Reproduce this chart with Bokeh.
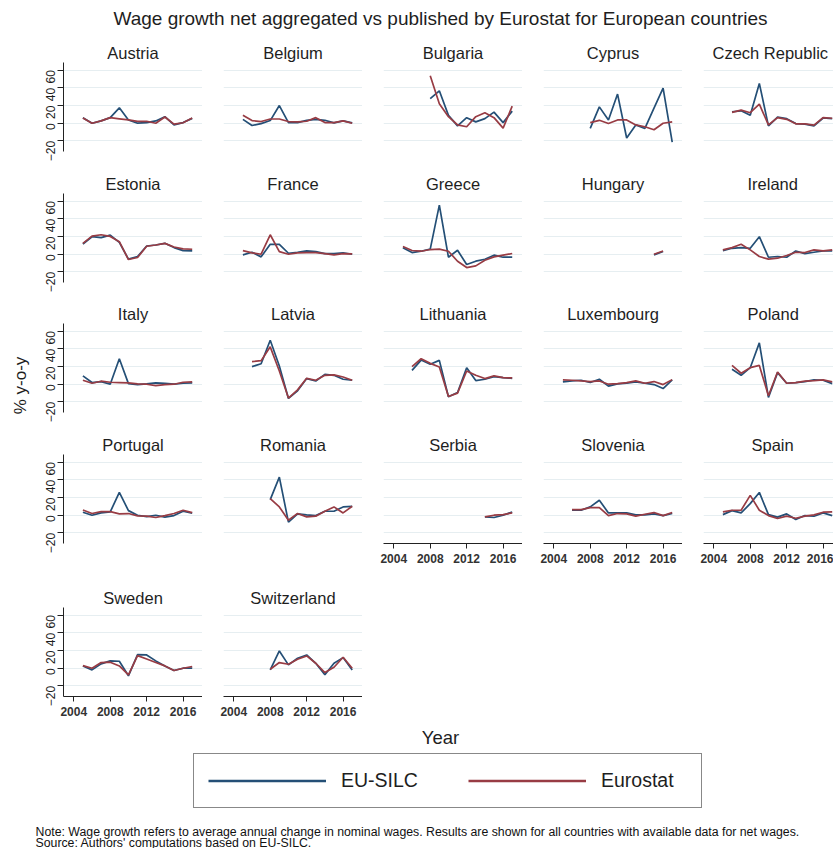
import math
from bokeh.plotting import figure
from bokeh.layouts import gridplot, row, column
from bokeh.models import Range1d, FixedTicker, Legend, LegendItem, ColumnDataSource
from bokeh.core.properties import value
from bokeh.embed import file_html
from bokeh.resources import INLINE

# ---------------- data ----------------
TITLE = "Wage growth net aggregated vs published by Eurostat for European countries"
Y_TITLE = "% y-o-y"
X_TITLE = "Year"
SERIES = ["EU-SILC", "Eurostat"]
X_TICKS = [2004, 2008, 2012, 2016]
Y_TICKS = [-20, 0, 20, 40, 60]
NOTE_1 = ("Note: Wage growth refers to average annual change in nominal wages. "
          "Results are shown for all countries  with available data for net wages.")
NOTE_2 = "Source: Authors' computations based on EU-SILC."

COUNTRIES = ["Austria", "Belgium", "Bulgaria", "Cyprus", "Czech Republic",
             "Estonia", "France", "Greece", "Hungary", "Ireland",
             "Italy", "Latvia", "Lithuania", "Luxembourg", "Poland",
             "Portugal", "Romania", "Serbia", "Slovenia", "Spain",
             "Sweden", "Switzerland"]

START_YEARS = [2005, 2005, 2008, 2008, 2006,
               2005, 2005, 2005, 2015, 2005,
               2005, 2006, 2006, 2005, 2006,
               2005, 2008, 2014, 2006, 2005,
               2005, 2008]

AUSTRIA_EUSILC = [6.3, 0.0, 2.6, 6.3, 17.4, 3.7, 0.0, 0.7, 2.6, 7.4, -1.9, 0.7, 5.5]
AUSTRIA_EUROSTAT = [6.0, 0.0, 2.6, 6.3, 5.0, 3.7, 2.0, 2.2, 0.0, 7.0, -1.0, 0.5, 6.0]
BELGIUM_EUSILC = [4.4, -2.6, -0.4, 3.0, 20.0, 0.7, 0.7, 3.3, 4.4, 3.3, 0.4, 2.6, 0.4]
BELGIUM_EUROSTAT = [8.9, 3.0, 1.9, 4.8, 4.8, 1.9, 1.5, 2.2, 6.3, 0.7, 0.7, 2.6, 0.0]
BULGARIA_EUSILC = [27.8, 36.7, 8.9, -3.0, 6.3, 1.5, 5.2, 12.6, 0.7, 13.7]
BULGARIA_EUROSTAT = [53.7, 22.0, 7.4, -1.9, -4.0, 7.4, 11.9, 6.3, -5.6, 19.3]
CYPRUS_EUSILC = [-5.9, 18.5, 3.7, 33.0, -16.7, -1.9, -5.9, 17.0, 39.6, -21.5]
CYPRUS_EUROSTAT = [0.7, 3.3, -0.4, 3.7, 3.7, -1.9, -4.0, -7.4, 0.0, 1.5]
CZECH_EUSILC = [13.0, 14.0, 8.9, 45.0, -3.0, 7.0, 5.2, -0.4, -1.1, -3.0, 5.9, 5.2]
CZECH_EUROSTAT = [12.2, 14.8, 11.9, 21.5, -1.9, 6.3, 4.4, -0.7, -0.7, -2.2, 6.3, 5.6]
ESTONIA_EUSILC = [11.6, 19.8, 18.7, 21.6, 13.4, -5.6, -2.6, 9.3, 10.4, 12.3, 7.5, 4.1, 3.7]
ESTONIA_EUROSTAT = [12.3, 20.5, 22.0, 20.1, 14.2, -6.0, -3.7, 9.0, 10.4, 12.3, 8.2, 6.0, 5.6]
FRANCE_EUSILC = [-0.7, 2.2, -3.0, 11.2, 11.2, 1.1, 2.2, 3.7, 3.0, 0.7, 0.7, 1.5, 0.0]
FRANCE_EUROSTAT = [4.1, 1.5, 0.0, 22.0, 3.0, 0.0, 1.5, 1.9, 1.9, 0.7, -0.7, 0.7, 0.4]
GREECE_EUSILC = [7.2, 1.9, 3.4, 5.7, 55.5, -3.4, 4.5, -11.7, -7.9, -5.7, -1.1, -3.4, -3.4]
GREECE_EUROSTAT = [8.7, 4.2, 3.4, 5.3, 5.7, 3.4, -7.9, -15.1, -13.2, -6.8, -3.0, -1.1, 0.8]
HUNGARY_EUSILC = [-0.7, 3.0]
HUNGARY_EUROSTAT = [0.0, 3.7]
IRELAND_EUSILC = [4.1, 6.7, 7.5, 6.7, 19.8, -3.4, -2.6, -3.4, 3.7, 0.7, 2.2, 3.7, 3.7]
IRELAND_EUROSTAT = [4.9, 7.5, 11.2, 4.9, -2.6, -5.6, -4.5, -1.5, 2.2, 1.9, 4.9, 3.7, 4.9]
ITALY_EUSILC = [9.4, 1.9, 3.0, 0.0, 28.8, 0.7, -0.4, 0.4, 1.5, 1.1, 0.0, 1.1, 1.5]
ITALY_EUROSTAT = [4.5, 1.1, 3.4, 2.2, 1.9, 1.5, 0.4, 0.0, -1.5, -0.4, 0.0, 2.2, 2.6]
LATVIA_EUSILC = [19.9, 23.2, 49.8, 20.6, -16.1, -7.5, 6.4, 3.7, 11.2, 10.1, 5.6, 4.5]
LATVIA_EUROSTAT = [25.5, 26.6, 42.3, 15.0, -15.7, -6.4, 6.7, 4.5, 10.1, 10.5, 8.2, 4.5]
LITHUANIA_EUSILC = [15.7, 27.3, 22.5, 27.0, -14.2, -9.4, 18.7, 4.1, 5.6, 8.6, 7.5, 6.7]
LITHUANIA_EUROSTAT = [19.9, 28.8, 23.6, 19.5, -13.9, -10.1, 15.0, 10.1, 6.4, 9.4, 7.5, 7.1]
LUXEMBOURG_EUSILC = [2.6, 3.7, 4.5, 1.9, 5.6, -2.2, 0.4, 1.1, 2.6, 1.1, -0.4, -4.9, 4.9]
LUXEMBOURG_EUROSTAT = [4.9, 4.5, 3.7, 3.0, 3.7, 0.0, 0.7, 1.9, 3.7, 1.1, 3.0, -0.4, 5.2]
POLAND_EUSILC = [16.9, 10.1, 18.7, 46.8, -15.0, 13.1, 1.1, 1.9, 3.0, 4.9, 4.5, 0.7]
POLAND_EUROSTAT = [21.3, 12.4, 18.7, 21.3, -13.1, 13.9, 1.1, 1.9, 3.4, 4.1, 4.9, 2.6]
PORTUGAL_EUSILC = [3.4, 0.0, 2.6, 3.7, 25.8, 5.2, 0.0, -1.5, 0.0, -2.2, -0.4, 4.5, 2.2]
PORTUGAL_EUROSTAT = [6.0, 1.9, 4.1, 4.1, 1.5, 1.9, -0.7, -1.1, -2.6, -0.4, 1.9, 5.6, 3.0]
ROMANIA_EUSILC = [17.6, 43.1, -7.9, 1.5, 0.4, -0.4, 4.5, 4.5, 9.4, 10.1]
ROMANIA_EUROSTAT = [18.7, 9.4, -5.6, 1.9, -1.9, -1.1, 4.5, 9.4, 2.6, 10.1]
SERBIA_EUSILC = [-1.9, -2.6, 0.0, 3.7]
SERBIA_EUROSTAT = [-1.9, 0.0, 0.7, 2.6]
SLOVENIA_EUSILC = [5.6, 5.6, 9.4, 16.9, 2.6, 2.6, 2.6, 0.4, 0.4, 1.5, -0.4, 1.9]
SLOVENIA_EUROSTAT = [6.4, 6.4, 8.6, 8.6, -0.4, 1.9, 1.5, -1.1, 1.1, 3.0, -0.4, 3.0]
SPAIN_EUSILC = [0.7, 5.2, 2.6, 13.1, 25.8, 0.7, -2.2, 1.5, -4.9, -0.4, -1.1, 2.6, -0.4]
SPAIN_EUROSTAT = [3.7, 5.6, 5.6, 22.5, 5.6, -0.4, -3.7, -1.1, -3.4, -1.1, 0.4, 3.4, 3.7]
SWEDEN_EUSILC = [2.6, -1.9, 4.9, 8.3, 7.9, -8.6, 15.4, 15.0, 8.3, 2.6, -2.6, 0.0, 0.0]
SWEDEN_EUROSTAT = [3.0, 0.0, 6.4, 6.8, 2.6, -7.5, 14.3, 10.5, 6.4, 2.6, -2.6, 0.0, 1.9]
SWITZERLAND_EUSILC = [-1.9, 19.5, 3.8, 11.3, 15.0, 5.6, -7.5, 5.6, 12.0, -1.9]
SWITZERLAND_EUROSTAT = [-1.1, 6.4, 4.5, 10.2, 13.9, 5.6, -4.9, 1.1, 12.4, 0.0]

EUSILC = [AUSTRIA_EUSILC, BELGIUM_EUSILC, BULGARIA_EUSILC, CYPRUS_EUSILC, CZECH_EUSILC,
          ESTONIA_EUSILC, FRANCE_EUSILC, GREECE_EUSILC, HUNGARY_EUSILC, IRELAND_EUSILC,
          ITALY_EUSILC, LATVIA_EUSILC, LITHUANIA_EUSILC, LUXEMBOURG_EUSILC, POLAND_EUSILC,
          PORTUGAL_EUSILC, ROMANIA_EUSILC, SERBIA_EUSILC, SLOVENIA_EUSILC, SPAIN_EUSILC,
          SWEDEN_EUSILC, SWITZERLAND_EUSILC]
EUROSTAT = [AUSTRIA_EUROSTAT, BELGIUM_EUROSTAT, BULGARIA_EUROSTAT, CYPRUS_EUROSTAT, CZECH_EUROSTAT,
            ESTONIA_EUROSTAT, FRANCE_EUROSTAT, GREECE_EUROSTAT, HUNGARY_EUROSTAT, IRELAND_EUROSTAT,
            ITALY_EUROSTAT, LATVIA_EUROSTAT, LITHUANIA_EUROSTAT, LUXEMBOURG_EUROSTAT, POLAND_EUROSTAT,
            PORTUGAL_EUROSTAT, ROMANIA_EUROSTAT, SERBIA_EUROSTAT, SLOVENIA_EUROSTAT, SPAIN_EUROSTAT,
            SWEDEN_EUROSTAT, SWITZERLAND_EUROSTAT]

# ---------------- style / layout ----------------
FONT = "Liberation Sans"
BLUE = "#244f76"
RED = "#983c44"
GRID = "#e6eef1"
TXT = "#1e1e1e"

PAGE_W, PAGE_H = 833, 848
HEADER_H = 36
YLAB_W = 38
NCOLS = 5
FRAME_H = 89
FRAME_W = 139
LAST_FRAME_W = 130
X_START, X_END = 2002.87, 2018.13
Y_START, Y_END = -32.0, 68.7
ROW_BORDERS = [(26, 15), (27, 15), (26, 15), (27, 37), (27, 28)]
COL_LEFT = [25, 21, 21, 21, 21]
TITLE_FS = "16.5px"
# left offsets of the titles in the last (cut) column, so they sit where the reference has them
LAST_COL_TITLE_OFFSET = {"Czech Republic": 9, "Ireland": 44, "Poland": 44, "Spain": 48}

n = len(COUNTRIES)
nrows = (n + NCOLS - 1) // NCOLS


def has_x_axis(i):
    return i + NCOLS >= n


def make_panel(i):
    r, c = divmod(i, NCOLS)
    top, bottom = ROW_BORDERS[r]
    left = COL_LEFT[c]
    fw = LAST_FRAME_W if c == NCOLS - 1 else FRAME_W
    x_end = X_START + (X_END - X_START) * fw / FRAME_W
    show_x = has_x_axis(i)
    show_y = c == 0
    p = figure(width=left + fw, height=top + FRAME_H + bottom,
               x_range=Range1d(X_START, x_end), y_range=Range1d(Y_START, Y_END),
               output_backend="svg", toolbar_location=None,
               x_axis_location="below" if show_x else None,
               y_axis_location="left" if show_y else None,
               min_border_left=left, min_border_right=0,
               min_border_top=top, min_border_bottom=bottom,
               title=COUNTRIES[i])
    p.outline_line_color = None
    p.background_fill_color = "white"
    p.border_fill_color = "white"
    p.xgrid.visible = False
    p.ygrid.ticker = FixedTicker(ticks=Y_TICKS)
    p.ygrid.grid_line_color = GRID
    p.ygrid.grid_line_width = 1.2

    t = p.title
    t.text_font = FONT
    t.text_font_size = TITLE_FS
    t.text_font_style = "normal"
    t.text_color = TXT
    t.standoff = 2
    if c == NCOLS - 1:
        t.align = "left"
        t.offset = LAST_COL_TITLE_OFFSET.get(COUNTRIES[i], 40)
    else:
        t.align = "center"

    if show_y:
        ax = p.yaxis[0]
        ax.ticker = FixedTicker(ticks=Y_TICKS)
        ax.major_label_orientation = math.pi / 2
        ax.major_label_text_font = FONT
        ax.major_label_text_font_size = "12px"
        ax.major_label_text_color = TXT
        ax.major_label_standoff = 7
        ax.major_tick_out = 6
        ax.major_tick_in = 0
        ax.minor_tick_line_color = None
        ax.axis_line_color = "#222"
        ax.major_tick_line_color = "#222"
    if show_x:
        ax = p.xaxis[0]
        ax.ticker = FixedTicker(ticks=X_TICKS)
        ax.major_label_text_font = FONT
        ax.major_label_text_font_size = "12px"
        ax.major_label_text_font_style = "bold"
        ax.major_label_text_color = "#333"
        ax.major_label_standoff = 5
        ax.major_tick_out = 5
        ax.major_tick_in = 0
        ax.minor_tick_line_color = None
        ax.axis_line_color = "#222"
        ax.major_tick_line_color = "#222"

    eu = EUSILC[i]
    es = EUROSTAT[i]
    years = list(range(START_YEARS[i], START_YEARS[i] + len(eu)))
    src = ColumnDataSource(dict(year=years, eusilc=eu, eurostat=es))
    p.line("year", "eusilc", source=src, line_color=BLUE, line_width=1.7)
    p.line("year", "eurostat", source=src, line_color=RED, line_width=1.7)
    return p


def canvas(w, h):
    p = figure(width=w, height=h, x_range=Range1d(0, w), y_range=Range1d(0, h),
               output_backend="svg", toolbar_location=None, min_border=0,
               x_axis_location=None, y_axis_location=None)
    p.outline_line_color = None
    p.xgrid.visible = False
    p.ygrid.visible = False
    return p


panels = [make_panel(i) for i in range(n)]
grid_children = []
for r in range(nrows):
    rr = []
    for c in range(NCOLS):
        i = r * NCOLS + c
        rr.append(panels[i] if i < n else None)
    grid_children.append(rr)
grid = gridplot(grid_children, toolbar_location=None)

GRID_H = sum(t + FRAME_H + b for t, b in ROW_BORDERS)
GRID_BOTTOM = HEADER_H + GRID_H

# header with the main title
header = canvas(PAGE_W, HEADER_H)
header.text(x=[440], y=[HEADER_H - 18], text=[TITLE], text_font=value(FONT), text_font_size="19px",
            text_align="center", text_baseline="middle", text_color=TXT)

# left strip with the y title
ylab = canvas(YLAB_W, GRID_H)
ylab.text(x=[20], y=[GRID_BOTTOM - 385], text=[Y_TITLE], angle=math.pi / 2,
          text_font=value(FONT), text_font_size="17px",
          text_align="center", text_baseline="middle", text_color=TXT)

# footer: x title, legend, notes
FOOT_H = PAGE_H - GRID_BOTTOM
footer = canvas(PAGE_W, FOOT_H)
footer.text(x=[440], y=[PAGE_H - 737], text=[X_TITLE], text_font=value(FONT),
            text_font_size="18.5px", text_align="center", text_baseline="middle", text_color=TXT)
footer.text(x=[35, 35], y=[PAGE_H - 831, PAGE_H - 842], text=[NOTE_1, NOTE_2], text_font=value(FONT),
            text_font_size="12.3px", text_align="left", text_baseline="alphabetic", text_color="#111")

# legend renderers sit outside the visible canvas; they only provide the legend keys
leg_src = ColumnDataSource(dict(x=[-20, -10], y=[-20, -20]))
r_eu = footer.line("x", "y", source=leg_src, line_color=BLUE, line_width=2.6)
r_es = footer.line("x", "y", source=leg_src, line_color=RED, line_width=2.6)
legend = Legend(items=[LegendItem(label=SERIES[0], renderers=[r_eu]),
                       LegendItem(label=SERIES[1], renderers=[r_es])],
                location=(193, PAGE_H - 808), orientation="horizontal",
                padding=14, spacing=41, margin=0,
                glyph_width=118, glyph_height=25, label_width=86, label_height=25,
                label_standoff=15,
                label_text_font=FONT, label_text_font_size="19.5px", label_text_color=TXT,
                border_line_color="#111", border_line_width=1.5,
                background_fill_color="white", background_fill_alpha=1.0)
footer.add_layout(legend)

layout = column(header, row(ylab, grid), footer)

html = file_html(layout, INLINE, title="Wage growth")
with open("out.html", "w") as fh:
    fh.write(html)
